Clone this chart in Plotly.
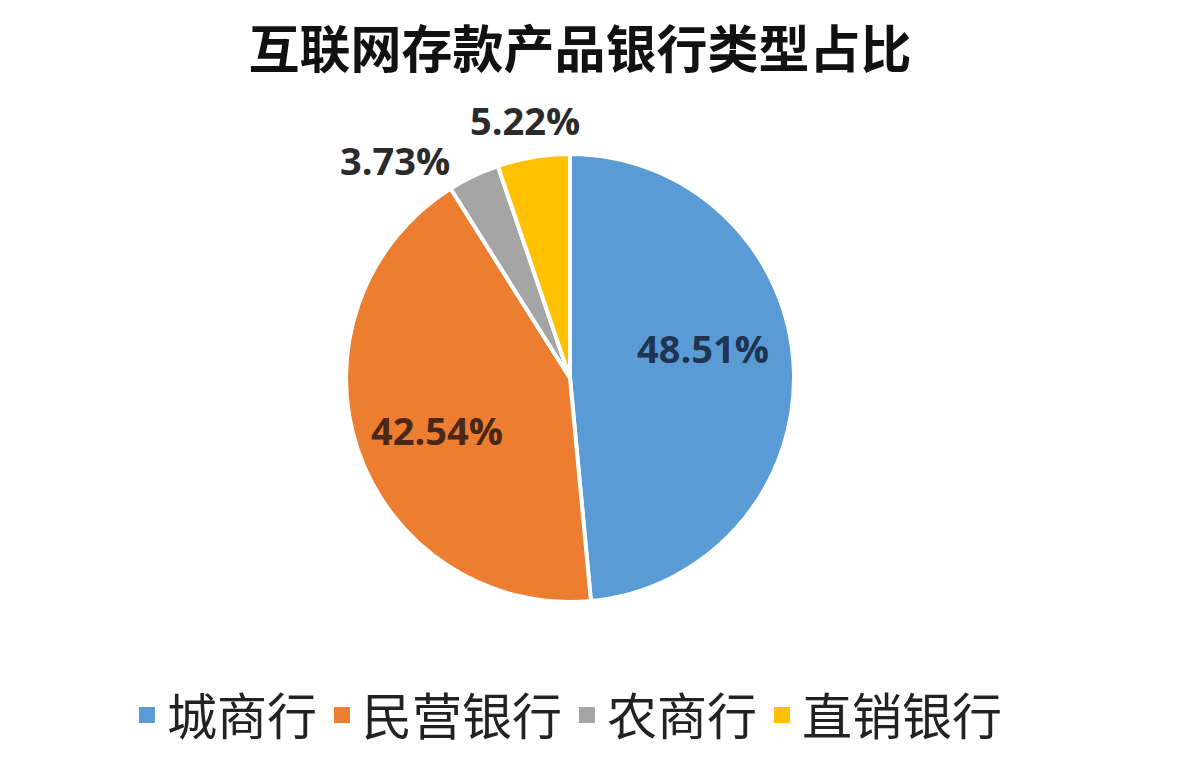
import plotly.graph_objects as go

# bank types and their share of internet deposit products (%)
bank_types = ['城商行', '民营银行', '农商行', '直销银行']
shares = [48.51, 42.54, 3.73, 5.22]
share_labels = ['48.51%', '42.54%', '3.73%', '5.22%']

colors = ['#5B9BD5', '#ED7D31', '#A5A5A5', '#FFC000']
label_colors = ['#1f3450', '#4a2818', '#2b2b2b', '#2b2b2b']
# where each percentage sits on the page (paper coords)
label_pos = [(0.5915, 0.5491), (0.3651, 0.4403), (0.3294, 0.7984), (0.4400, 0.8515)]

fig = go.Figure()
fig.add_trace(go.Pie(
    labels=bank_types,
    values=shares,
    textinfo='none',
    marker=dict(colors=colors, line=dict(color='white', width=4)),
    sort=False,
    direction='clockwise',
    rotation=0,
    domain=dict(x=[0.2876, 0.6690], y=[0.2122, 0.8063]),
    showlegend=False,
    hoverinfo='label+percent',
))

# legend entries with bigger square keys
for name, c in zip(bank_types, colors):
    fig.add_trace(go.Scatter(
        x=[None], y=[None], mode='markers', name=name,
        marker=dict(symbol='square', size=18, color=c),
    ))

for txt, c, (px_, py_) in zip(share_labels, label_colors, label_pos):
    fig.add_annotation(
        text=txt, x=px_, y=py_, xref='paper', yref='paper',
        xanchor='center', yanchor='middle', showarrow=False,
        font=dict(family='Open Sans', size=38, color=c, weight='bold'),
    )

fig.update_layout(
    width=1175,
    height=754,
    paper_bgcolor='white',
    plot_bgcolor='white',
    margin=dict(l=0, r=0, t=0, b=0),
    xaxis=dict(visible=False),
    yaxis=dict(visible=False),
    title=dict(
        text='互联网存款产品银行类型占比',
        x=0.4868, xanchor='center',
        y=0.9443, yanchor='middle',
        font=dict(family='Noto Sans CJK SC', size=51, color='#111111', weight='bold'),
    ),
    legend=dict(
        orientation='h',
        x=0.4757, xanchor='center',
        y=0.0623, yanchor='middle',
        font=dict(family='Noto Sans CJK SC', size=50, color='#222222'),
        itemwidth=30,
    ),
    shapes=[
        dict(type='line', xref='paper', yref='paper', x0=0.998, x1=0.998, y0=0, y1=1,
             line=dict(color='#333333', width=3)),
    ],
)

fig.write_html('out.html')
